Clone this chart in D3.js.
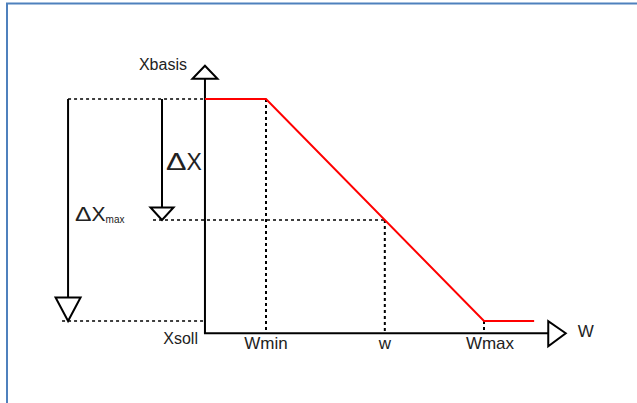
<!DOCTYPE html>
<html>
<head>
<meta charset="utf-8">
<script src="https://cdn.jsdelivr.net/npm/d3@7"></script>
<style>
  html, body { margin: 0; padding: 0; background: #fff; }
  svg { display: block; }
  text { font-family: "Liberation Sans", Arial, sans-serif; fill: #222; }
</style>
</head>
<body>
<svg id="chart" width="637" height="403"></svg>
<script>
// ---- data ----
// W axis values: Wmin = 0, Wmax = 100 (relative units)
const wTickLabels = ["Wmin", "w", "Wmax"];
const wTickValues = [0, 54.5, 100];
// control characteristic (red): W -> X, Xsoll = 0, Xbasis = 100
const curveW = [-28, 0, 100, 123];
const curveX = [100, 100, 0, 0];
// axis extents
const axisW = [-28, 137.5];
const axisX = [-5.5, 115];
// X levels
const xLevelLabels = ["Xbasis", "Xsoll"];
const xLevelValues = [100, 0];
// operating point
const opW = 54.5;
const opX = 45.5;
// delta arrows: horizontal position (W units), from X, to X
const deltaArrowW = [-47.7, -90.8];
const deltaArrowFrom = [100, 100];
const deltaArrowTo = [opX, 0];

// ---- scales ----
const x = d3.scaleLinear().domain([0, 100]).range([266, 484]);
const y = d3.scaleLinear().domain([0, 100]).range([321, 99]);

const svg = d3.select("#chart");

// frame (top + left visible)
svg.append("rect")
  .attr("x", 7).attr("y", 3.5).attr("width", 700).attr("height", 500)
  .attr("fill", "none").attr("stroke", "#4f81bd").attr("stroke-width", 2);

const dotted = (x1, y1, x2, y2, w) => svg.append("line")
  .attr("x1", x1).attr("y1", y1).attr("x2", x2).attr("y2", y2)
  .attr("stroke", "#000").attr("stroke-width", w || 2)
  .attr("stroke-dasharray", "3,3");

// dotted guides
dotted(x(deltaArrowW[1]), y(100), x(axisW[0]), y(100), 1.5);
dotted(x(deltaArrowW[1]) - 6, y(0), x(axisW[0]), y(0), 1.5);
dotted(x(deltaArrowW[0]) - 9, y(opX), x(opW), y(opX), 1.5);
dotted(x(0), y(100), x(0), y(axisX[0]), 2);
dotted(x(opW), y(opX), x(opW), y(axisX[0]), 2);
dotted(x(100), y(0), x(100), y(axisX[0]), 2);

// axes
const x0 = x(axisW[0]), y0 = y(axisX[0]);
svg.append("line").attr("x1", x0).attr("y1", y0).attr("x2", x0).attr("y2", y(axisX[1]) + 13)
  .attr("stroke", "#000").attr("stroke-width", 2);
svg.append("line").attr("x1", x0 - 1).attr("y1", y0).attr("x2", x(axisW[1]) - 17).attr("y2", y0)
  .attr("stroke", "#000").attr("stroke-width", 2);

// arrow heads (open triangles)
const tri = (pts) => svg.append("path")
  .attr("d", d3.line()(pts) + "Z")
  .attr("fill", "#fff").attr("stroke", "#000").attr("stroke-width", 2)
  .attr("stroke-linejoin", "miter");
// y axis head
{
  const tx = x0, ty = y(axisX[1]);
  tri([[tx, ty], [tx + 12.5, ty + 13], [tx - 12.5, ty + 13]]);
}
// x axis head
{
  const tx = x(axisW[1]), ty = y0;
  tri([[tx, ty], [tx - 17.5, ty - 12], [tx - 17.5, ty + 13]]);
}

// delta arrows
deltaArrowW.forEach((w, i) => {
  const ax = x(w);
  const yTo = y(deltaArrowTo[i]);
  const h = i === 0 ? 12.5 : 23.5;
  const hw = i === 0 ? 11.5 : 12.5;
  svg.append("line").attr("x1", ax).attr("y1", y(deltaArrowFrom[i]))
    .attr("x2", ax).attr("y2", yTo - h)
    .attr("stroke", "#000").attr("stroke-width", 2);
  tri([[ax, yTo], [ax - hw, yTo - h], [ax + hw, yTo - h]]);
});

// red characteristic
svg.append("path")
  .datum(curveW.map((w, i) => [w, curveX[i]]))
  .attr("d", d3.line().x(d => x(d[0])).y(d => y(d[1])))
  .attr("fill", "none").attr("stroke", "#ff0000").attr("stroke-width", 2);

// W tick labels
svg.selectAll("text.wtick").data(wTickValues).enter().append("text")
  .attr("class", "wtick")
  .attr("x", (d, i) => x(d) + (i === 2 ? 6 : 0))
  .attr("y", 349)
  .attr("text-anchor", "middle")
  .style("font-size", "17px")
  .text((d, i) => wTickLabels[i]);

// X level labels
svg.append("text").attr("x", x0 - 18).attr("y", 70).attr("text-anchor", "end")
  .style("font-size", "16px").text(xLevelLabels[0]);
svg.append("text").attr("x", x0 - 7).attr("y", 343.5).attr("text-anchor", "end")
  .style("font-size", "16px").text(xLevelLabels[1]);

// axis name W
svg.append("text").attr("x", x(axisW[1]) + 12).attr("y", 337)
  .style("font-size", "17px").text("W");

// delta labels
const dx = svg.append("text").attr("x", x(deltaArrowW[0]) + 4).attr("y", 169.5)
  .style("font-size", "23px");
dx.append("tspan").attr("textLength", 20.5).attr("lengthAdjust", "spacingAndGlyphs").text("Δ");
dx.append("tspan").text("X");

const dxm = svg.append("text").attr("x", x(deltaArrowW[1]) + 7).attr("y", 221)
  .style("font-size", "21px");
dxm.append("tspan").attr("textLength", 16.5).attr("lengthAdjust", "spacingAndGlyphs").text("Δ");
dxm.append("tspan").text("X");
dxm.append("tspan").style("font-size", "10px").attr("dy", 1.5).text("max");
</script>
</body>
</html>
